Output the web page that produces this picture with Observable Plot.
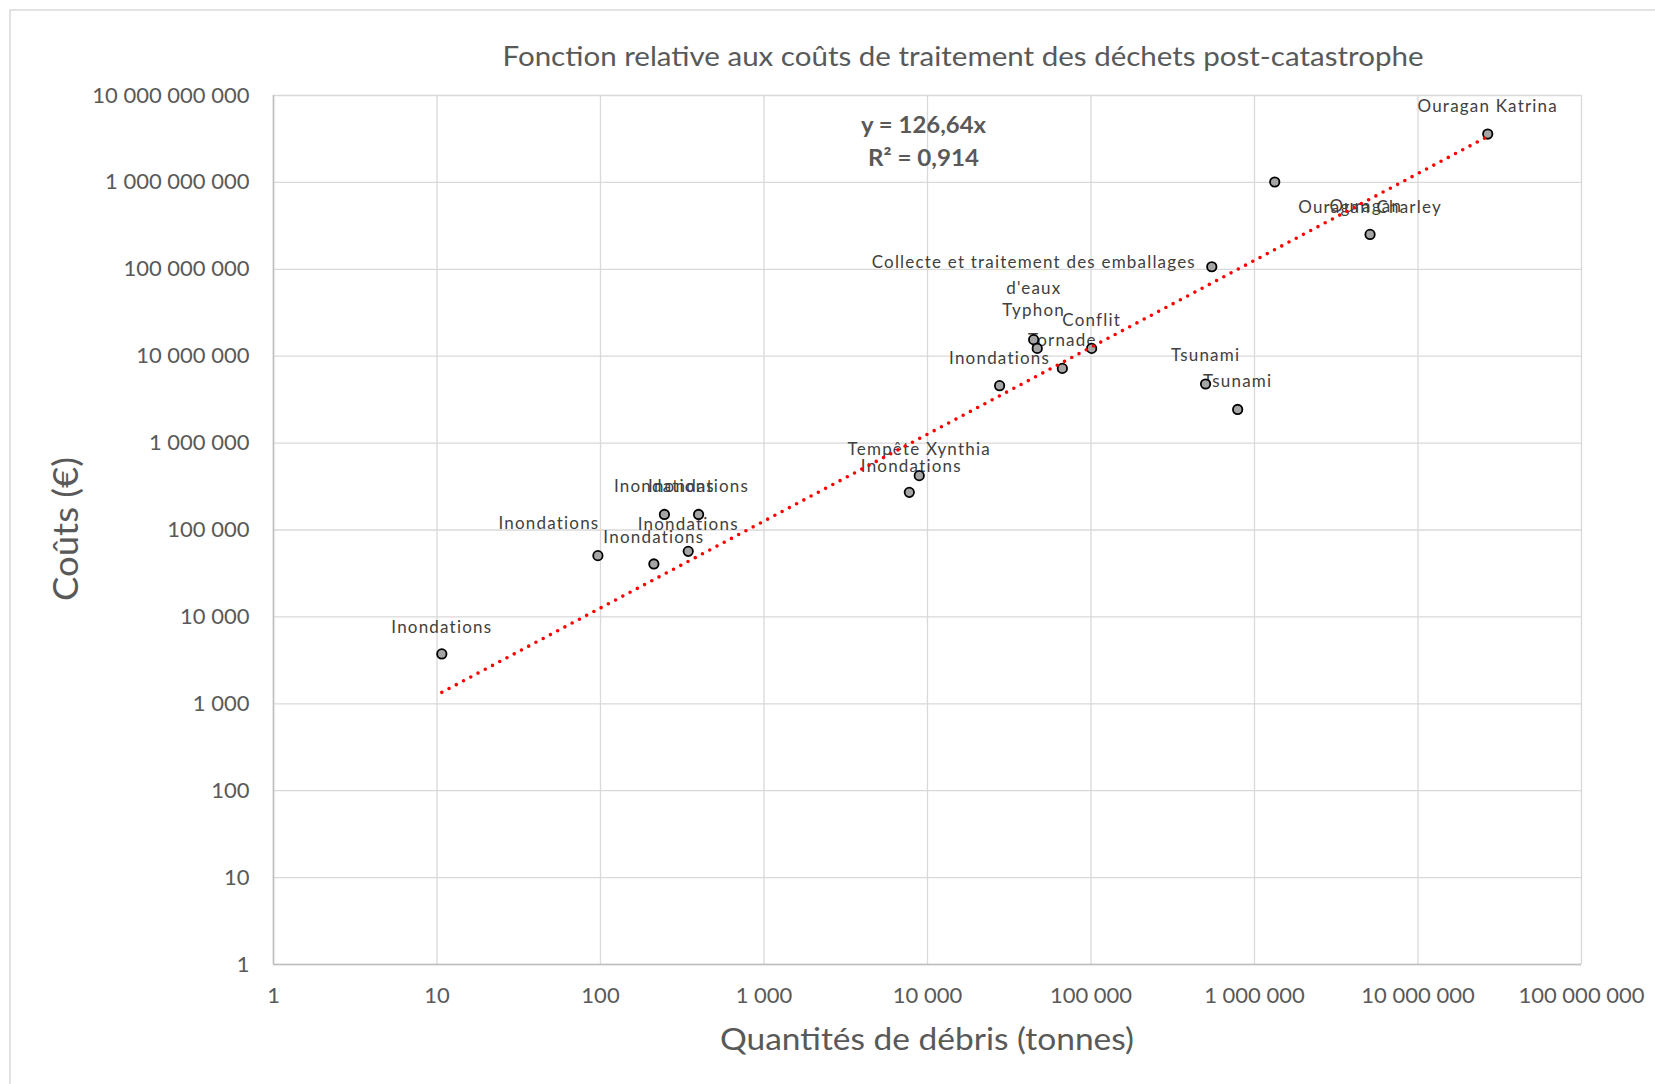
<!DOCTYPE html>
<html><head><meta charset="utf-8">
<script src="https://cdn.jsdelivr.net/npm/d3@7"></script>
<script src="https://cdn.jsdelivr.net/npm/@observablehq/plot@0.6"></script>
<style>
html,body{margin:0;padding:0;background:#fff;}
#chart{position:relative;width:1655px;height:1084px;overflow:hidden;background:#fff;}
</style></head><body><div id="chart"></div>
<script>
// ---- Data ----
const labels = [
  "Inondations", "Inondations", "Inondations", "Inondations", "Inondations", "Inondations",
  "Tempête Xynthia", "Inondations", "Inondations", "Typhon", "", "Tornade", "Conflit",
  "Collecte et traitement des emballages\nd'eaux", "Tsunami", "Tsunami", "Ouragan",
  "Ouragan Charley", "Ouragan Katrina"
];
const debris = [10.7, 96.4, 212, 246, 398, 344, 8900, 7740, 27600, 44600, 46900, 66800, 100900,
  548000, 502000, 789000, 1330000, 5090000, 26700000];
const costs = [3750, 50700, 40700, 151000, 151000, 56800, 422000, 271000, 4580000, 15500000, 12300000,
  7240000, 12300000, 107000000, 4790000, 2440000, 1010000000, 252000000, 3600000000];
const xTicks = [1, 10, 100, 1e3, 1e4, 1e5, 1e6, 1e7, 1e8];
const yTicks = [1, 10, 100, 1e3, 1e4, 1e5, 1e6, 1e7, 1e8, 1e9, 1e10];
const slope = 126.64;
const r2 = 0.914;
const titleText = "Fonction relative aux coûts de traitement des déchets post-catastrophe";
const xTitle = "Quantités de débris (tonnes)";
const yTitle = "Coûts (€)";

// ---- Label placement (style) ----
const labelDx = [0, -49, 0, 0, 0, 0, 0, 2, 0, 0, 0, 0, 0, -178, 0, 0, 91, 0, 0];
const labelDy = [-29, -35, -29, -31, -31, -30, -29, -29, -30, -32, 0, -31, -31, 6, -31, -31, 22, -30, -30];

const fmt = v => d3.format(",")(v).replace(/,/g, " ");
const frNum = (v, d) => v.toFixed(d).replace(".", ",");
const data = labels.map((label, i) => ({label, debris: debris[i], cost: costs[i]}));
const xMin = d3.min(debris), xMax = d3.max(debris);
const trend = [xMin, xMax].map(x => ({debris: x, cost: slope * x}));

const gridColor = "#d9d9d9";
const textGray = "#595959";

const svgNode = Plot.plot({
  width: 1655,
  height: 1084,
  marginLeft: 273,
  marginRight: 74,
  marginTop: 95,
  marginBottom: 120,
  style: {fontFamily: "Lato, sans-serif", background: "#fff", overflow: "visible"},
  x: {type: "log", domain: [xTicks[0], xTicks[xTicks.length - 1]]},
  y: {type: "log", domain: [yTicks[0], yTicks[yTicks.length - 1]]},
  marks: [
    Plot.gridX(xTicks, {stroke: gridColor, strokeOpacity: 1, strokeWidth: 1.3}),
    Plot.gridY(yTicks, {stroke: gridColor, strokeOpacity: 1, strokeWidth: 1.3}),
    Plot.ruleX([xTicks[0]], {stroke: "#bfbfbf", strokeWidth: 1.6}),
    Plot.ruleY([yTicks[0]], {stroke: "#bfbfbf", strokeWidth: 1.6}),
    Plot.axisX(xTicks, {tickSize: 0, tickPadding: 23, tickFormat: fmt, fontSize: 22, color: textGray, label: null}),
    Plot.axisY(yTicks, {tickSize: 0, tickPadding: 24, tickFormat: fmt, fontSize: 22, color: textGray, label: null}),
    ...data.map((d, i) => Plot.text([d], {
      x: "debris", y: "cost", text: "label",
      dx: labelDx[i], dy: labelDy[i],
      fontSize: 17, fill: "#404040", lineHeight: 1.5,
      ariaDescription: "data-label"
    })),
    Plot.dot(data, {x: "debris", y: "cost", r: 4.7, fill: "#a5a5a5", stroke: "#000", strokeWidth: 1.8}),
    Plot.line(trend, {x: "debris", y: "cost", stroke: "#ff0000", strokeWidth: 3.6,
      strokeDasharray: "0 8.2", strokeLinecap: "round"})
  ]
});

document.getElementById("chart").appendChild(svgNode);
const svg = d3.select(svgNode);

// letter spacing of data labels (Excel-like)
svg.selectAll('g[aria-description="data-label"] text, g[fill="#404040"] text')
  .style("letter-spacing", "1.2px");

// outer chart border
svg.insert("rect", ":first-child")
  .attr("x", 10).attr("y", 10).attr("width", 1700).attr("height", 1100)
  .attr("fill", "none").attr("stroke", gridColor).attr("stroke-width", 1.5);

function addText(txt, x, y, size, len, opts = {}) {
  const t = svg.append("text")
    .attr("x", x).attr("y", y)
    .attr("text-anchor", "middle")
    .attr("font-size", size)
    .attr("fill", textGray)
    .attr("font-family", "Lato, sans-serif")
    .text(txt);
  if (len) t.attr("textLength", len).attr("lengthAdjust", "spacingAndGlyphs");
  if (opts.bold) t.attr("font-weight", "bold");
  if (opts.transform) t.attr("transform", opts.transform).attr("x", 0).attr("y", 0);
  return t;
}

addText(titleText, 963, 66, 27, 921);
addText(xTitle, 927, 1050, 30, 414);
addText(yTitle, 0, 0, 35, 144, {transform: "translate(78,529) rotate(-90)"});
addText("y = " + frNum(slope, 2) + "x", 923.5, 133, 23, 125, {bold: true});
addText("R² = " + frNum(r2, 3), 923.5, 166, 23, 111, {bold: true});
</script>
</body></html>
